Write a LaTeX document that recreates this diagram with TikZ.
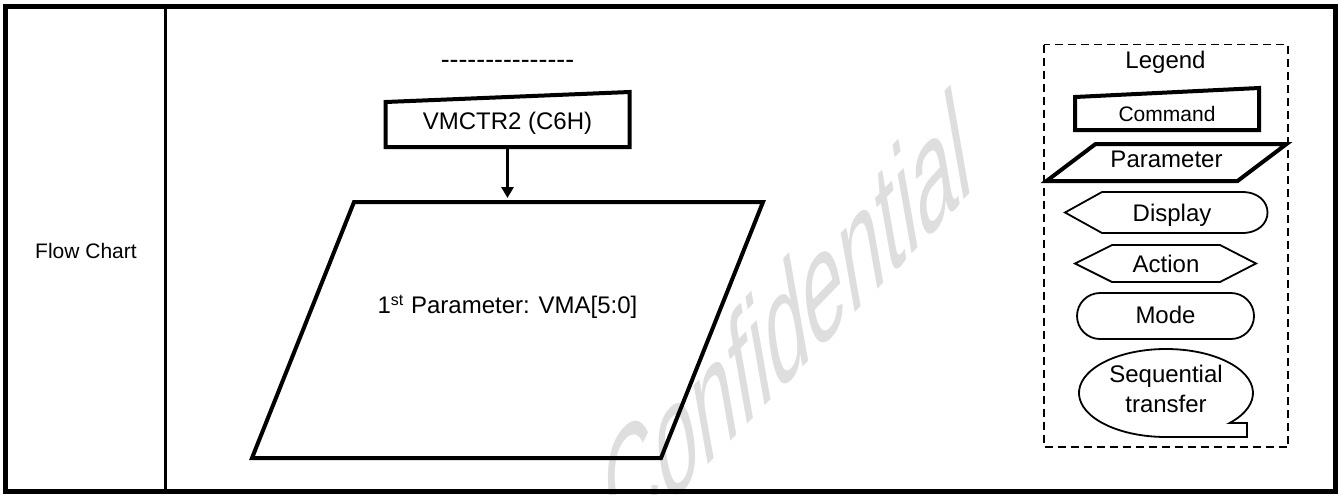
\documentclass[tikz,border=0pt]{standalone}
\usepackage{fontspec}
\setmainfont{Liberation Sans}[Ligatures=TeXOff]
\usetikzlibrary{arrows.meta, positioning}

\begin{document}
\begin{tikzpicture}[
    x=0.5pt, y=-0.5pt,
    box/.style   = {inner sep=0pt, outer sep=0pt, text height=8.6pt, text depth=0pt, font=\fontsize{12}{15}\selectfont},
    small/.style = {font=\fontsize{10.5}{12}\selectfont, text height=7.5pt},
    heavy/.style = {draw=black, line width=2pt},
    light/.style = {draw=black, line width=0.9pt},
    flow/.style  = {draw=black, line width=1.5pt, -{Triangle[length=5.5pt, width=6pt]}, shorten >=2pt}
]

\useasboundingbox (0,0) rectangle (1342,494);

% Watermark
\begin{scope}
\clip (0,0) rectangle (1342,494);
\node (wmark) [anchor=base west, text=black!13, font=\fontsize{10}{12}\selectfont, transform shape, cm={3.39,3.51,-1.32,7.49,(0,0)}] at (593,584) {Confidential};
\end{scope}

% Table frame
\draw [line width=2.5pt] (5.8,6.5) rectangle (1335.5,491.5);
\draw [line width=1.2pt] (165.3,6.5) -- (165.3,491.5);
\node (fc) [font=\fontsize{10.5}{12}\selectfont, anchor=base] at (86,258) {Flow Chart};

% Flow
\node (dash) [font=\fontsize{13.35}{15}\selectfont, anchor=base] at (507.5,68) {---------------};
\node (cmd) [box, minimum width=122pt, minimum height=22.5pt, text depth=3.5pt] at (507.5,124.5) {VMCTR2 (C6H)};
\draw [heavy] (cmd.north west) -- ([yshift=5pt]cmd.north east) -- (cmd.south east) -- (cmd.south west) -- cycle;

\node (par) [box, minimum width=204.5pt, minimum height=128pt, text depth=24.7pt] at (507.5,330) {1\textsuperscript{st} Parameter: VMA[5:0]};
\draw [heavy] ([xshift=25.5pt]par.north west) -- ([xshift=25.5pt]par.north east) -- ([xshift=-25.5pt]par.south east) -- ([xshift=-25.5pt]par.south west) -- cycle;

\draw [flow] (cmd.south) -- (par.north);

% Legend
\draw [light, dash pattern=on 4pt off 2.5pt] (1044,44.5) rectangle (1288,447);
\node (lgd) [font=\fontsize{12}{15}\selectfont, anchor=base] at (1165.5,68) {Legend};

\node (lcmd) [box, small, minimum width=92pt, minimum height=16.5pt] at (1167,113.5) {Command};
\draw [heavy] (lcmd.north west) -- ([yshift=4.5pt]lcmd.north east) -- (lcmd.south east) -- (lcmd.south west) -- cycle;

\node (lpar) [box, minimum width=95.5pt, minimum height=18.5pt, text depth=3.3pt] at (1166.5,162.5) {Parameter};
\draw [heavy] ([xshift=12.25pt]lpar.north west) -- ([xshift=12.25pt]lpar.north east) -- ([xshift=-12.25pt]lpar.south east) -- ([xshift=-12.25pt]lpar.south west) -- cycle;

\node (disp) [box, minimum width=70pt, minimum height=20.5pt] at (1172,212.5) {Display};
\draw [light] ([xshift=-18.5pt]disp.west) -- (disp.north west) -- (disp.north east) .. controls +(17pt,0) and +(17pt,0) .. (disp.south east) -- (disp.south west) -- cycle;

\node (act) [box, minimum width=54pt, minimum height=18.5pt] at (1166,263.5) {Action};
\draw [light] ([xshift=-18.5pt]act.west) -- (act.north west) -- (act.north east) -- ([xshift=18pt]act.east) -- (act.south east) -- (act.south west) -- cycle;

\node (mode) [box, light, minimum width=88.5pt, minimum height=23pt, rounded corners=11.5pt, text depth=1.3pt] at (1165.5,316) {Mode};

\node (seq) [align=center, font=\fontsize{12}{15}\selectfont, inner sep=0pt] at (1166,389) {Sequential\\transfer};
\draw [light] (1229.6,423) arc[start angle=43, end angle=-270, x radius=87, y radius=44] -- (1247,437) -- (1247,423) -- cycle;

\end{tikzpicture}
\end{document}
